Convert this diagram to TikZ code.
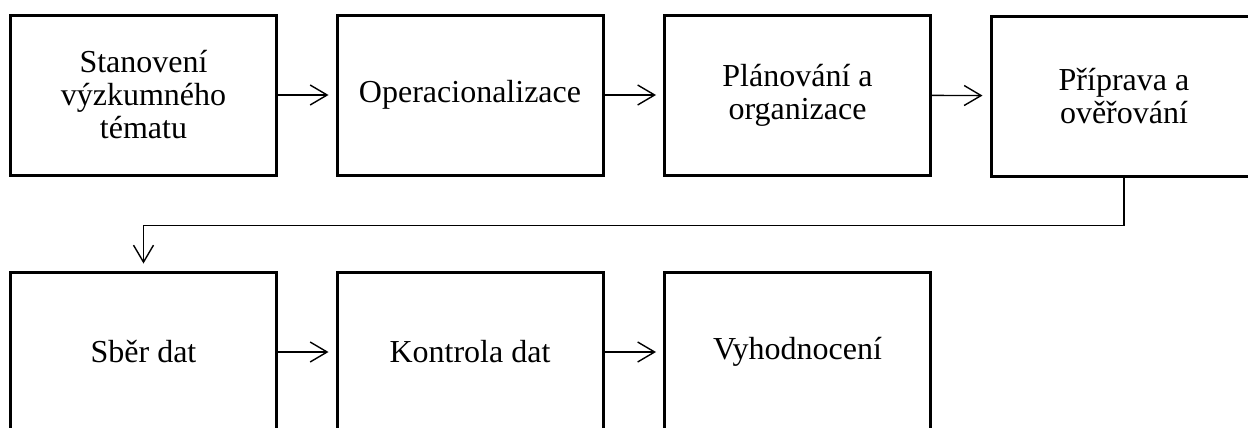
\documentclass[tikz,border=0pt]{standalone}
\usepackage{fontspec}
\setmainfont{Liberation Serif}
\usepackage{tikz}
\usetikzlibrary{arrows.meta}
\tikzstyle{every node}=[font=\fontsize{16}{16.5}\selectfont]
\tikzstyle{stepbox}=[rectangle, draw, line width=1.5pt, align=center,
                     minimum width=133pt, minimum height=80pt, inner sep=2pt]
\tikzstyle{flow}=[line width=0.7pt, shorten >=3.5pt,
                  -{Straight Barb[length=8.5pt,width=10pt,line width=0.7pt]}]

\begin{document}
\begin{tikzpicture}[x=0.5pt,y=-0.5pt]
      \useasboundingbox (0,0) rectangle (1248,428);
      \node[stepbox] (tema) at (143.5,95) {Stanovení\\výzkumného\\tématu};
      \node[stepbox] (oper) at (470,95) {Operacionalizace};
      \node[stepbox] (plan) at (797.5,95) {Plánování a\\organizace};
      \node[stepbox] (prep) at (1124,96) {Příprava a\\ověřování};
      \node[stepbox] (sber) at (143.5,352) {Sběr dat};
      \node[stepbox] (kontrola) at (470,352) {Kontrola dat};
      \node[stepbox] (vyhod) at (797.5,352) {Vyhodnocení};
	\draw[flow] (tema)--(oper);
	\draw[flow] (oper)--(plan);
	\draw[flow] (plan)--(prep);
	\draw[flow] (prep.south) -- ++(0,48) -| (sber.north);
	\draw[flow] (sber)--(kontrola);
	\draw[flow] (kontrola)--(vyhod);
      \end{tikzpicture}
\end{document}
